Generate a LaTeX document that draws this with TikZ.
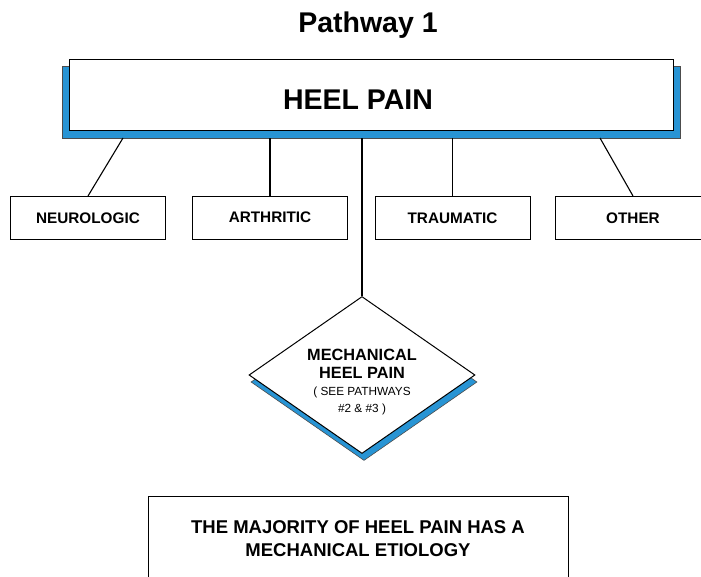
\documentclass[tikz,border=0pt]{standalone}
\usepackage{fontspec}
\setmainfont{Liberation Sans}
\usetikzlibrary{shapes.geometric}
\definecolor{shadowblue}{RGB}{40,148,212}
\begin{document}
\begin{tikzpicture}[x=1pt,y=-1pt,
  box/.style={draw=black,fill=white,line width=1pt,inner sep=0pt},
  cat/.style={box,minimum width=155pt,minimum height=43pt,font=\fontsize{15.3}{17}\selectfont\bfseries},
  link/.style={draw=black,line width=1.1pt},
  shade/.style={fill=shadowblue,draw=black!70,line width=0.6pt},
  big/.style={inner sep=0pt,font=\fontsize{16.3}{17}\selectfont\bfseries},
  small/.style={inner sep=0pt,font=\fontsize{11.8}{13}\selectfont}]
\useasboundingbox (0,0) rectangle (701,577);
% title
\node (title) at (368,25) {\fontsize{28.5}{30}\selectfont\bfseries Pathway 1};
% main box with shadow
\node[shade,rectangle,minimum width=618pt,minimum height=72pt,inner sep=0pt] (shad) at (371,102) {};
\node[box,minimum width=604pt,minimum height=71pt] (heel) at (371,95.5) {};
\node[inner sep=0pt] (heeltext) at (358,100) {\fontsize{28.5}{30}\selectfont\bfseries HEEL PAIN};
% category boxes
\node[cat] (neuro) at (88,218) {NEUROLOGIC};
\node[cat] (arth) at (270,218) {\raisebox{2pt}{ARTHRITIC}};
\node[cat] (traum) at (452.5,218) {\raisebox{-1pt}{TRAUMATIC}};
\node[cat] (other) at (633,218) {OTHER};
% start points on the shadow
\coordinate (s1) at (123,138);
\coordinate (s5) at (600,138);
\draw[link] (s1) -- (neuro.north);
\draw[link] (shad.south -| arth.north) -- (arth.north);
\draw[link] (shad.south -| traum.north) -- (traum.north);
\draw[link] (s5) -- (other.north);
% diamond
\node[diamond,shade,minimum width=226pt,minimum height=157pt,inner sep=0pt] (mshad) at (364,382) {};
\node[diamond,box,minimum width=226pt,minimum height=157pt] (mech) at (362,375) {};
\node[big] (m1) at (362,355) {MECHANICAL};
\node[big] (m2) at (362,373) {HEEL PAIN};
\node[small] (m3) at (362,392) {( SEE PATHWAYS};
\node[small] (m4) at (362,409) {\#2 \& \#3 )};
\draw[link] (shad.south -| mech.north) -- (mech.north);
% bottom box
\node[box,minimum width=420pt,minimum height=100pt,anchor=north] (maj) at (358,496) {};
\node[align=center,inner sep=0pt,font=\fontsize{18.5}{23}\selectfont\bfseries] (majtext) at (358,539) {THE MAJORITY OF HEEL PAIN HAS A\\ MECHANICAL ETIOLOGY};
\end{tikzpicture}
\end{document}
